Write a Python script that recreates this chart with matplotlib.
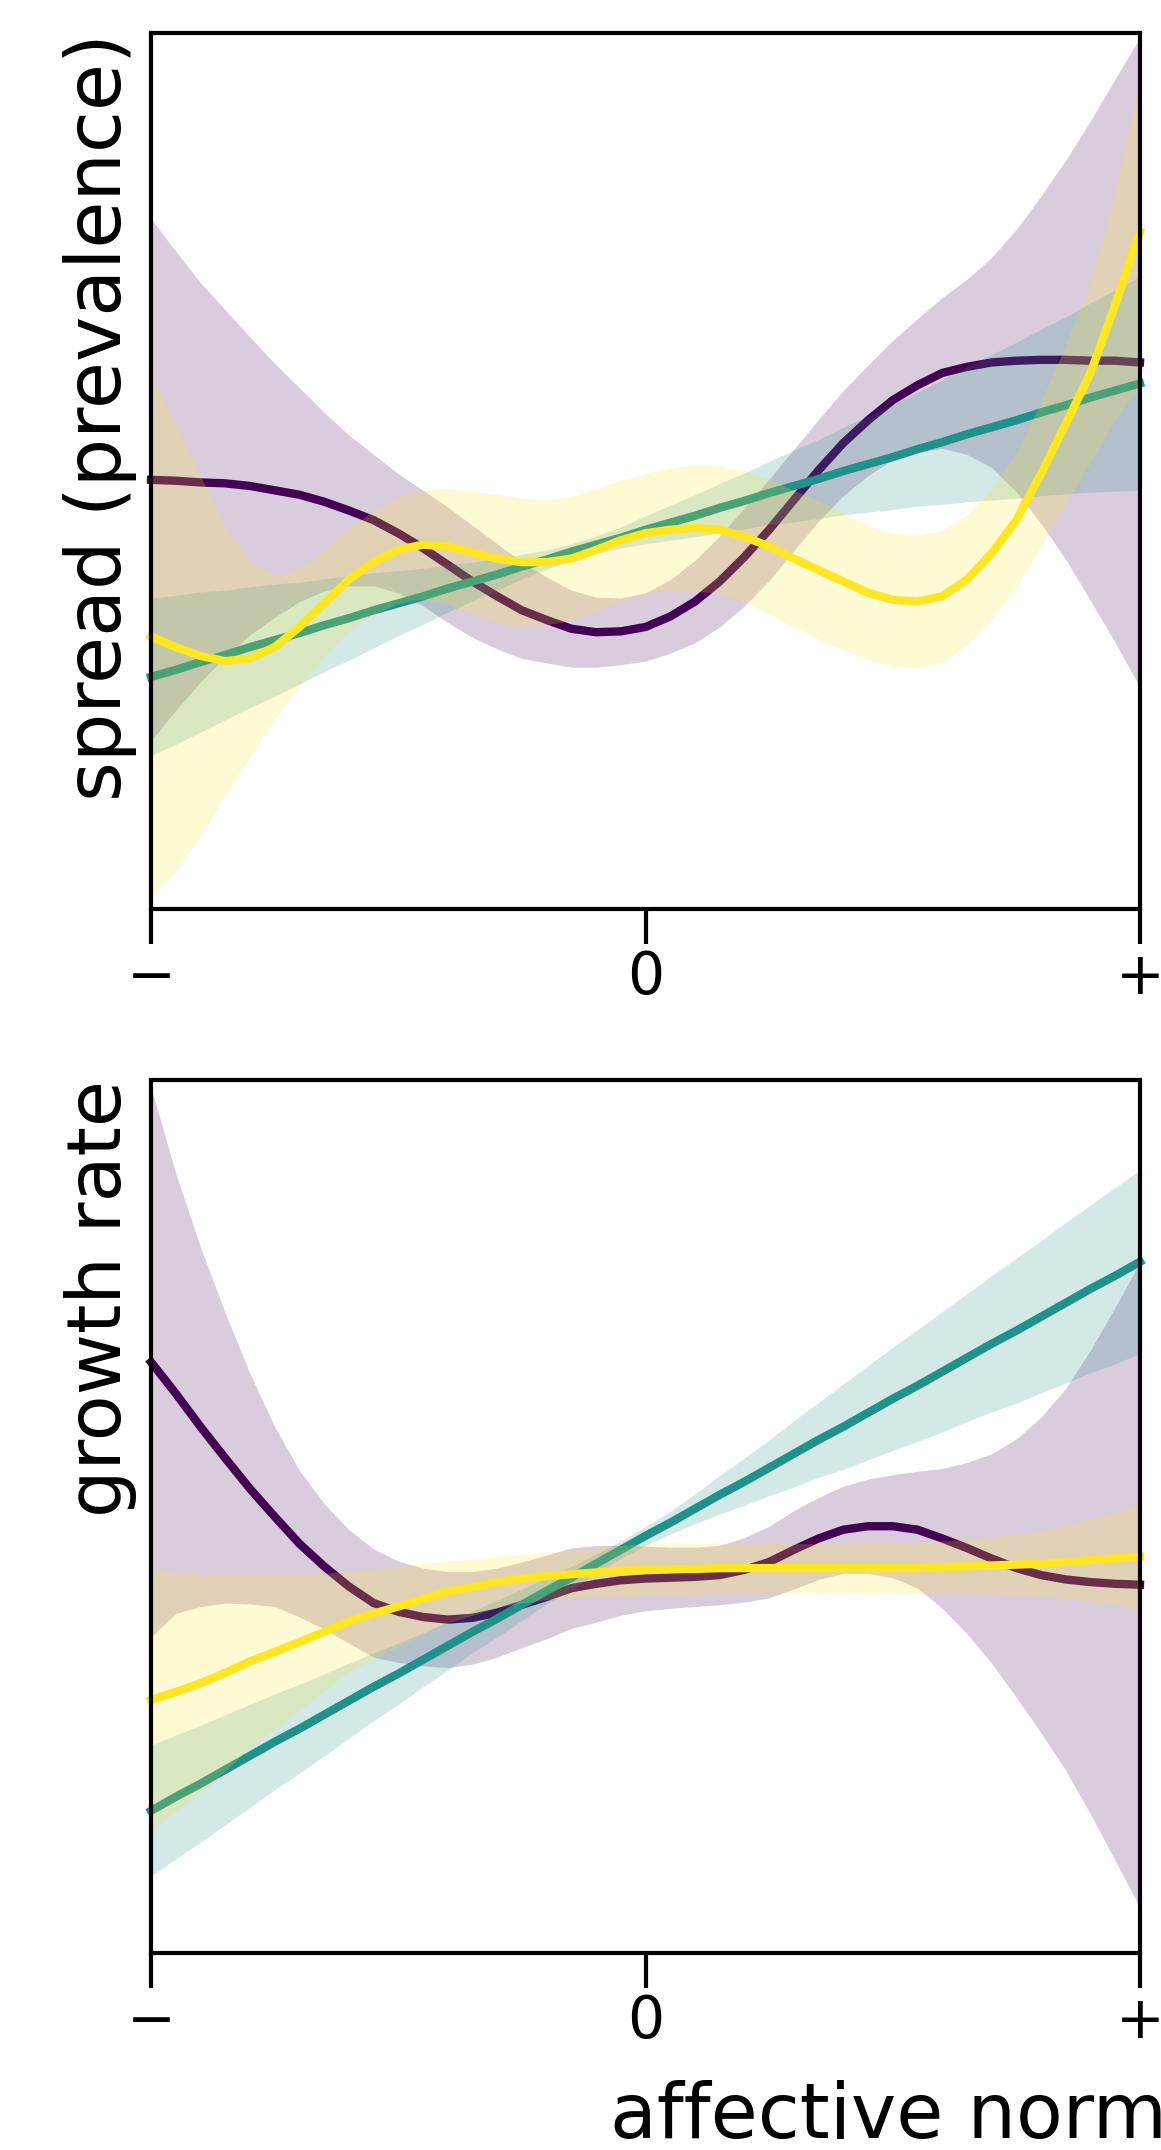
import matplotlib

matplotlib.use("Agg")
import matplotlib.pyplot as plt
import numpy as np

# affective norm, from negative (-1) to positive (+1), in steps of 0.05
X = np.round(np.linspace(-1, 1, 41), 2)

# top panel: spread (prevalence); estimate and half-width of its band, per group
SPREAD_LOW = [0.490, 0.489, 0.487, 0.486, 0.483, 0.478, 0.473, 0.465, 0.455, 0.444, 0.429,
              0.412, 0.393, 0.374, 0.357, 0.341, 0.330, 0.320, 0.316, 0.317, 0.322,
              0.334, 0.351, 0.374, 0.402, 0.433, 0.467, 0.501, 0.532, 0.558, 0.581,
              0.598, 0.612, 0.619, 0.624, 0.626, 0.627, 0.627, 0.626, 0.626, 0.624]
SPREAD_LOW_ERR = [0.298, 0.262, 0.228, 0.198, 0.170, 0.145, 0.122, 0.102, 0.086, 0.075, 0.068,
                  0.066, 0.066, 0.064, 0.060, 0.055, 0.049, 0.044, 0.040, 0.038, 0.039,
                  0.042, 0.047, 0.052, 0.056, 0.058, 0.058, 0.058, 0.060, 0.063, 0.068,
                  0.076, 0.086, 0.100, 0.120, 0.150, 0.187, 0.228, 0.274, 0.322, 0.371]
SPREAD_MID = [0.265, 0.273, 0.282, 0.290, 0.299, 0.307, 0.315, 0.324, 0.332, 0.341, 0.349,
              0.357, 0.366, 0.374, 0.382, 0.391, 0.399, 0.408, 0.416, 0.424, 0.433,
              0.441, 0.449, 0.458, 0.466, 0.475, 0.483, 0.491, 0.500, 0.508, 0.516,
              0.525, 0.533, 0.542, 0.550, 0.558, 0.567, 0.575, 0.584, 0.592, 0.600]
SPREAD_MID_ERR = [0.090, 0.085, 0.080, 0.074, 0.069, 0.064, 0.058, 0.053, 0.048, 0.043, 0.037,
                  0.032, 0.027, 0.022, 0.018, 0.014, 0.011, 0.009, 0.010, 0.012, 0.016,
                  0.020, 0.024, 0.028, 0.032, 0.036, 0.041, 0.045, 0.050, 0.055, 0.060,
                  0.065, 0.071, 0.077, 0.083, 0.089, 0.095, 0.101, 0.108, 0.115, 0.122]
SPREAD_HIGH = [0.311, 0.299, 0.289, 0.283, 0.286, 0.299, 0.322, 0.349, 0.376, 0.396, 0.410,
               0.416, 0.414, 0.407, 0.400, 0.396, 0.396, 0.400, 0.410, 0.421, 0.429,
               0.433, 0.435, 0.433, 0.425, 0.414, 0.400, 0.387, 0.374, 0.361, 0.353,
               0.351, 0.357, 0.376, 0.406, 0.444, 0.497, 0.554, 0.612, 0.690, 0.773]
SPREAD_HIGH_ERR = [0.297, 0.256, 0.205, 0.153, 0.112, 0.082, 0.067, 0.061, 0.058, 0.059, 0.061,
                   0.062, 0.066, 0.070, 0.073, 0.073, 0.071, 0.071, 0.070, 0.069, 0.068,
                   0.070, 0.072, 0.073, 0.075, 0.077, 0.078, 0.079, 0.078, 0.076, 0.076,
                   0.076, 0.075, 0.074, 0.074, 0.077, 0.082, 0.090, 0.102, 0.130, 0.176]

# bottom panel: growth rate
GROWTH_LOW = [0.677, 0.641, 0.603, 0.567, 0.532, 0.500, 0.469, 0.443, 0.420, 0.401, 0.391,
              0.385, 0.382, 0.384, 0.390, 0.399, 0.408, 0.418, 0.423, 0.427, 0.429,
              0.430, 0.431, 0.433, 0.439, 0.448, 0.462, 0.475, 0.485, 0.489, 0.489,
              0.485, 0.475, 0.464, 0.452, 0.441, 0.433, 0.428, 0.425, 0.423, 0.422]
GROWTH_LOW_ERR = [0.315, 0.252, 0.206, 0.166, 0.132, 0.103, 0.084, 0.072, 0.065, 0.062, 0.058,
                  0.056, 0.055, 0.053, 0.051, 0.049, 0.048, 0.046, 0.044, 0.040, 0.037,
                  0.035, 0.034, 0.034, 0.037, 0.041, 0.045, 0.047, 0.050, 0.054, 0.059,
                  0.067, 0.080, 0.098, 0.120, 0.148, 0.181, 0.219, 0.266, 0.317, 0.370]
GROWTH_MID = [0.163, 0.179, 0.194, 0.210, 0.226, 0.242, 0.257, 0.273, 0.289, 0.305, 0.320,
              0.336, 0.352, 0.368, 0.383, 0.399, 0.415, 0.430, 0.446, 0.462, 0.478,
              0.493, 0.509, 0.525, 0.540, 0.556, 0.572, 0.588, 0.603, 0.619, 0.635,
              0.650, 0.666, 0.682, 0.698, 0.713, 0.729, 0.745, 0.761, 0.776, 0.792]
GROWTH_MID_ERR = [0.075, 0.071, 0.067, 0.063, 0.059, 0.055, 0.051, 0.047, 0.043, 0.039, 0.035,
                  0.031, 0.028, 0.024, 0.021, 0.018, 0.015, 0.013, 0.011, 0.010, 0.011,
                  0.013, 0.017, 0.022, 0.027, 0.032, 0.038, 0.043, 0.049, 0.054, 0.059,
                  0.064, 0.069, 0.073, 0.078, 0.083, 0.087, 0.092, 0.096, 0.101, 0.105]
GROWTH_HIGH = [0.290, 0.299, 0.309, 0.321, 0.334, 0.345, 0.356, 0.368, 0.380, 0.389, 0.397,
               0.406, 0.414, 0.419, 0.425, 0.429, 0.432, 0.434, 0.436, 0.438, 0.439,
               0.440, 0.440, 0.441, 0.441, 0.441, 0.441, 0.441, 0.441, 0.441, 0.441,
               0.441, 0.442, 0.443, 0.444, 0.445, 0.446, 0.448, 0.450, 0.452, 0.454]
GROWTH_HIGH_ERR = [0.150, 0.137, 0.125, 0.112, 0.099, 0.088, 0.078, 0.067, 0.058, 0.051, 0.046,
                   0.040, 0.035, 0.032, 0.029, 0.028, 0.027, 0.027, 0.028, 0.029, 0.030,
                   0.030, 0.029, 0.029, 0.028, 0.028, 0.028, 0.028, 0.028, 0.028, 0.029,
                   0.029, 0.030, 0.031, 0.033, 0.035, 0.038, 0.042, 0.047, 0.053, 0.060]

COLORS = ["#440154", "#21918c", "#fde725"]
TICK_LABELS = ["\u2212", "0", "+"]

PANELS = [
    ("spread (prevalence)", 55,
     [(SPREAD_LOW, SPREAD_LOW_ERR), (SPREAD_MID, SPREAD_MID_ERR), (SPREAD_HIGH, SPREAD_HIGH_ERR)]),
    ("growth rate", 54,
     [(GROWTH_LOW, GROWTH_LOW_ERR), (GROWTH_MID, GROWTH_MID_ERR), (GROWTH_HIGH, GROWTH_HIGH_ERR)]),
]

plt.rcParams["font.family"] = ["DejaVu Sans"]

fig = plt.figure(figsize=(11.61, 21.5), dpi=100)
axes = [fig.add_axes([0.1301, 0.5772, 0.8518, 0.4074]),
        fig.add_axes([0.1301, 0.0916, 0.8518, 0.4060])]

for ax, (ylabel, size, groups) in zip(axes, PANELS):
    for color, (est, err) in zip(COLORS, groups):
        est = np.asarray(est)
        err = np.asarray(err)
        ax.plot(X, est, color=color, lw=6, clip_on=False, zorder=2,
                solid_joinstyle="round")
        ax.fill_between(X, est - err, est + err, color=color, alpha=0.2, lw=0, zorder=2)
    ax.set_xlim(-1, 1)
    ax.set_ylim(0, 1)
    ax.set_yticks([])
    ax.set_xticks([-1, 0, 1])
    ax.set_xticklabels(TICK_LABELS)
    ax.tick_params(axis="x", length=25, width=3, labelsize=42, pad=4)
    for spine in ax.spines.values():
        spine.set_linewidth(3)
    ax.set_ylabel(ylabel, fontsize=size, loc="top", labelpad=10)

axes[1].set_xlabel("affective norm", fontsize=55, ha="right")
axes[1].xaxis.set_label_coords(1.027, -0.145)

fig.savefig("out.png", dpi=100)
